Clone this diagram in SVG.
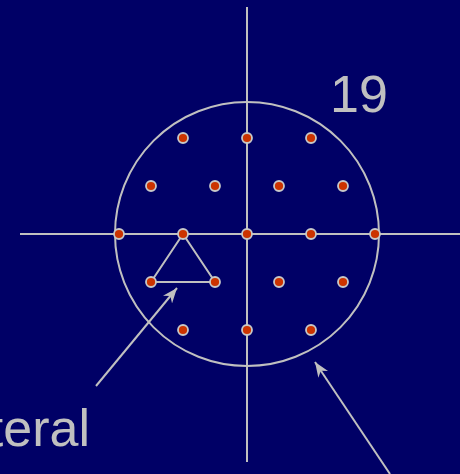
<svg xmlns="http://www.w3.org/2000/svg" width="460" height="474" viewBox="0 0 460 474">
  <defs>
    <style>
      .ln { stroke: #C0C0C0; stroke-width: 2; fill: none; }
      .dot { fill: #CC3300; stroke: #C8C8C8; stroke-width: 1.8; }
      .lbl { font-family: "Liberation Sans", Arial, sans-serif; font-size: 52px; fill: #C0C0C0; }
    </style>
    <marker id="ah" viewBox="0 0 10 10" refX="10" refY="5" markerWidth="15" markerHeight="12" markerUnits="userSpaceOnUse" orient="auto" preserveAspectRatio="none">
      <path d="M0,0 L10,5 L0,10 L3,5 Z" fill="#C0C0C0"/>
    </marker>
  </defs>
  <rect width="460" height="474" fill="#000066"/>
  <g id="axes">
    <line class="ln" x1="247" y1="7" x2="247" y2="462"/>
    <line class="ln" x1="20" y1="234" x2="460" y2="234"/>
    <circle class="ln" cx="247" cy="234" r="132"/>
  </g>
  <g id="triangle">
    <polygon class="ln" points="183,234 151,282 215,282" stroke-width="2.5"/>
  </g>
  <g id="connectors">
    <line class="ln" x1="96" y1="386" x2="177" y2="288" marker-end="url(#ah)"/>
    <line class="ln" x1="390" y1="474" x2="315" y2="362" marker-end="url(#ah)"/>
  </g>
  <g id="points">
    <circle class="dot" cx="183" cy="138" r="5"/>
    <circle class="dot" cx="247" cy="138" r="5"/>
    <circle class="dot" cx="311" cy="138" r="5"/>
    <circle class="dot" cx="151" cy="186" r="5"/>
    <circle class="dot" cx="215" cy="186" r="5"/>
    <circle class="dot" cx="279" cy="186" r="5"/>
    <circle class="dot" cx="343" cy="186" r="5"/>
    <circle class="dot" cx="119" cy="234" r="5"/>
    <circle class="dot" cx="183" cy="234" r="5"/>
    <circle class="dot" cx="247" cy="234" r="5"/>
    <circle class="dot" cx="311" cy="234" r="5"/>
    <circle class="dot" cx="375" cy="234" r="5"/>
    <circle class="dot" cx="151" cy="282" r="5"/>
    <circle class="dot" cx="215" cy="282" r="5"/>
    <circle class="dot" cx="279" cy="282" r="5"/>
    <circle class="dot" cx="343" cy="282" r="5"/>
    <circle class="dot" cx="183" cy="330" r="5"/>
    <circle class="dot" cx="247" cy="330" r="5"/>
    <circle class="dot" cx="311" cy="330" r="5"/>
  </g>
  <g id="labels">
    <text class="lbl" x="359" y="112" text-anchor="middle">19</text>
    <text class="lbl" x="90" y="446" text-anchor="end">teral</text>
  </g>
</svg>
